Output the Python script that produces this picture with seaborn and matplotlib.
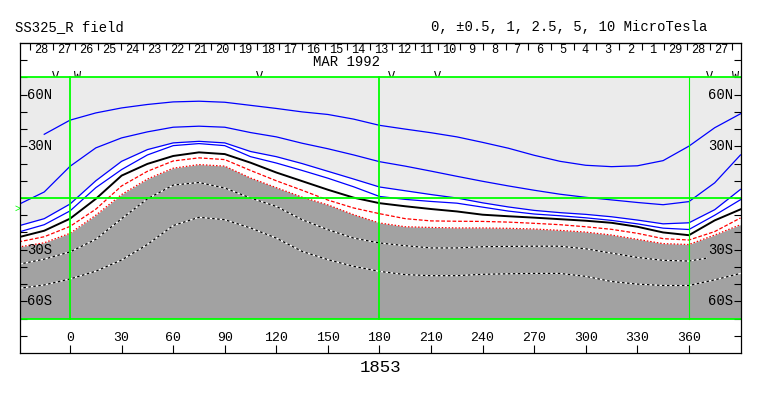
import numpy as np
import matplotlib
matplotlib.use("Agg")
import matplotlib.pyplot as plt
import seaborn as sns
import pandas as pd

lon = [-30, -15, 0, 15, 30, 45, 60, 75, 90, 105, 120, 135, 150, 165, 180,
       195, 210, 225, 240, 255, 270, 285, 300, 315, 330, 345, 360, 375, 390]

# latitude of each source-surface field contour (microTesla levels)
pos5 = [np.nan, 37, 45.2, 49.4, 52.3, 54.3, 55.8, 56.2, 55.6, 53.8, 52, 50, 48.5, 45.8, 42.2,
        40, 37.9, 35.5, 32.3, 28.9, 24.8, 21.3, 19, 18.2, 18.7, 21.7, 30.1, 40.8, 48.9]
pos25 = [-3.8, 3.5, 18.4, 29.1, 34.9, 38.4, 41.1, 41.7, 41.1, 38, 35.5, 31.8, 28.6, 25, 21.1,
         18.5, 15.6, 12.6, 9.7, 7, 4.5, 2.2, 0.4, -1.1, -2.6, -3.9, -2.1, 8.8, 25]
pos1 = [-16.2, -12, -3.5, 10, 21.3, 28.1, 32, 32.9, 32, 27, 24, 20, 15.5, 11, 6.4,
        4.2, 2, 0, -2.8, -5.2, -7.2, -8.5, -9.5, -10.9, -12.8, -15, -14.4, -6.8, 5]
pos05 = [-19.8, -15.5, -7.5, 6, 16.5, 25, 30.4, 31.6, 30.4, 24, 20.3, 16, 11.5, 6.5, 0.9,
         -0.8, -2, -3, -5.3, -7.6, -9.3, -10.3, -11.5, -13, -15, -17.5, -18.3, -10, -1]
zero = [-22.8, -19, -12, -0.5, 13, 19.8, 24.4, 26.5, 25.5, 20.5, 14.8, 9.8, 4.8, 0.2, -3,
        -4.8, -6.4, -7.8, -9.7, -10.6, -11.4, -12.3, -13.2, -14.4, -16.7, -20, -21.6, -13, -6.6]
neg05 = [-25.5, -22.5, -16.5, -6.5, 7, 15.5, 21.5, 23.3, 22.3, 16, 10, 4.5, -1.2, -5.8, -9.1,
         -12, -13.3, -13.5, -13.6, -14, -14.7, -15.5, -16.7, -18.2, -20.5, -23.6, -24.4, -19.5, -11.6]
neg1 = [-28.5, -26, -20.5, -10, 2, 11, 17.3, 19.4, 18.5, 11.6, 6, 0.5, -4, -9.7, -14.5,
        -16.7, -17.1, -17.4, -17.4, -17.6, -18, -18.8, -19.8, -21.5, -24, -26.5, -27, -21.5, -15.5]
neg25 = [-38.5, -35.5, -31.3, -24, -12, -0.5, 7.5, 9, 5.8, 0, -4.9, -12.6, -18.4, -23.3, -26.1,
         -27.7, -29, -29, -28.3, -28.1, -28, -28, -29.5, -32, -34.5, -36.2, -36.6, np.nan, np.nan]
neg25_tail_lon = [360, 370]
neg25_tail = [-36.6, -35]
neg5 = [-52.5, -50.5, -47, -42.5, -36, -27, -16, -11.2, -12.6, -17.4, -23.3, -31, -35.8, -39.7, -42.6,
        -44.5, -45.1, -45.1, -44.3, -44, -43.8, -43.8, -45.5, -48.5, -50, -50.8, -50.8, -47.5, -43.8]

# top axis: days of the month (Mar 1992 running backwards into Feb)
day_labels = [28, 27, 26, 25, 24, 23, 22, 21, 20, 19, 18, 17, 16, 15, 14, 13, 12, 11, 10,
              9, 8, 7, 6, 5, 4, 3, 2, 1, 29, 28, 27]
first_day_lon = -23.3
deg_per_day = 13.18

# observation markers along the top of the map
mark_lon = [-8.7, 4.1, 110, 186.7, 213.5, 371.7, 386.9]
mark_txt = ["V", "W", "V", "V", "V", "V", "W"]

lat_ticks = [60, 30, -30, -60]
lat_names = ["60N", "30N", "30S", "60S"]
lon_ticks = [0, 30, 60, 90, 120, 150, 180, 210, 240, 270, 300, 330, 360]

df = pd.DataFrame({"lon": lon, "p5": pos5, "p25": pos25, "p1": pos1, "p05": pos05,
                   "z": zero, "n05": neg05, "n1": neg1, "n25": neg25, "n5": neg5})

plt.rcParams["font.family"] = ["Liberation Mono", "DejaVu Sans Mono"]

fig = plt.figure(figsize=(7.63, 3.96), dpi=100)
ax = fig.add_axes([20 / 763, 43 / 396, 721 / 763, 310 / 396])

LIGHT = "#ebebeb"
DARK = "#a2a2a2"
GREEN = "#00ff00"

# shading: light grey map, white band between +1 and -1, dark grey below -1
ax.axhspan(-70, 70, color=LIGHT, zorder=1, lw=0)
ax.fill_between(df["lon"], df["n1"], df["p1"], color="white", zorder=1.1, lw=0)
ax.fill_between(df["lon"], -70, df["n1"], color=DARK, zorder=1.2, lw=0)

for col in ["p5", "p25", "p1", "p05"]:
    sns.lineplot(data=df, x="lon", y=col, ax=ax, color="#0000ff", lw=0.9,
                 estimator=None, zorder=2.1)
sns.lineplot(data=df, x="lon", y="z", ax=ax, color="black", lw=1.4, estimator=None, zorder=2.1)
sns.lineplot(data=df, x="lon", y="n05", ax=ax, color="red", lw=0.9,
             linestyle=(0, (3, 1.5)), estimator=None, zorder=2.1)
sns.lineplot(data=df, x="lon", y="n1", ax=ax, color="red", lw=0.9,
             linestyle=(0, (1.2, 1.5)), estimator=None, zorder=2.1)
for col in ["n25", "n5"]:
    sns.lineplot(data=df, x="lon", y=col, ax=ax, color="white", lw=0.9, estimator=None, zorder=2.1)
    sns.lineplot(data=df, x="lon", y=col, ax=ax, color="black", lw=0.9,
                 linestyle=(0, (2, 2)), estimator=None, zorder=2.15)
ax.plot(neg25_tail_lon, neg25_tail, color="white", lw=0.9, zorder=2.1)
ax.plot(neg25_tail_lon, neg25_tail, color="black", lw=0.9, ls=(0, (2, 2)), zorder=2.15)

# green grid: equator, map edges, 0/180/360
for la in [70, 0, -70]:
    ax.axhline(la, color=GREEN, lw=1.3, zorder=2.3)
for lo, w in [(0, 1.3), (180, 1.3), (360, 0.8)]:
    ax.plot([lo, lo], [-70, 70], color=GREEN, lw=w, zorder=2.3)

ax.set_xlim(-29.1, 390.3)
ax.set_ylim(-90, 90)
ax.set_xlabel("")
ax.set_ylabel("")
ax.set_xticks(lon_ticks)
ax.set_xticklabels([])
ax.set_yticks(range(-80, 81, 10))
ax.set_yticklabels([])
ax.tick_params(axis="x", direction="in", length=6, width=0.8, bottom=True, top=False)
ax.tick_params(axis="y", direction="in", length=5, width=0.8, left=True, right=True)
for s in ax.spines.values():
    s.set_linewidth(0.9)
    s.set_zorder(5)

day_ticks = [first_day_lon + k * deg_per_day for k in range(len(day_labels) + 1)]
top = ax.secondary_xaxis("top")
top.set_xticks(day_ticks, labels=[""] * len(day_ticks))
top.tick_params(direction="in", length=5, width=0.8)

for k, d in enumerate(day_labels):
    ax.text(day_ticks[k] + deg_per_day / 2, 85.8, str(d), ha="center", va="center",
            fontsize=8.6, zorder=4)
ax.text(180.5, 79, "MAR 1992", ha="right", va="center", fontsize=10, zorder=4)

for lo, t in zip(mark_lon, mark_txt):
    ax.text(lo, 70.3, t, ha="center", va="center", fontsize=8.5, zorder=0.8)

for la, name in zip(lat_ticks, lat_names):
    ax.text(-25.2, la, name, ha="left", va="center", fontsize=10, zorder=4)
    ax.text(385.8, la, name, ha="right", va="center", fontsize=10, zorder=4)

for lo in lon_ticks:
    ax.text(lo, -81.5, str(lo), ha="center", va="center", fontsize=9.5, zorder=4)

ax.text(-30.8, -6.4, ">", color=GREEN, ha="center", va="center", fontsize=7, clip_on=False)

fig.text(15 / 763, 1 - 27 / 396, "SS325_R field", ha="left", va="center", fontsize=10)
fig.text(431 / 763, 1 - 27 / 396, "0, \u00b10.5, 1, 2.5, 5, 10 MicroTesla",
         ha="left", va="center", fontsize=10)
fig.text(380 / 763, 1 - 367 / 396, "1853", ha="center", va="center", fontsize=12.5)

fig.savefig("out.png", dpi=100, facecolor="white")
